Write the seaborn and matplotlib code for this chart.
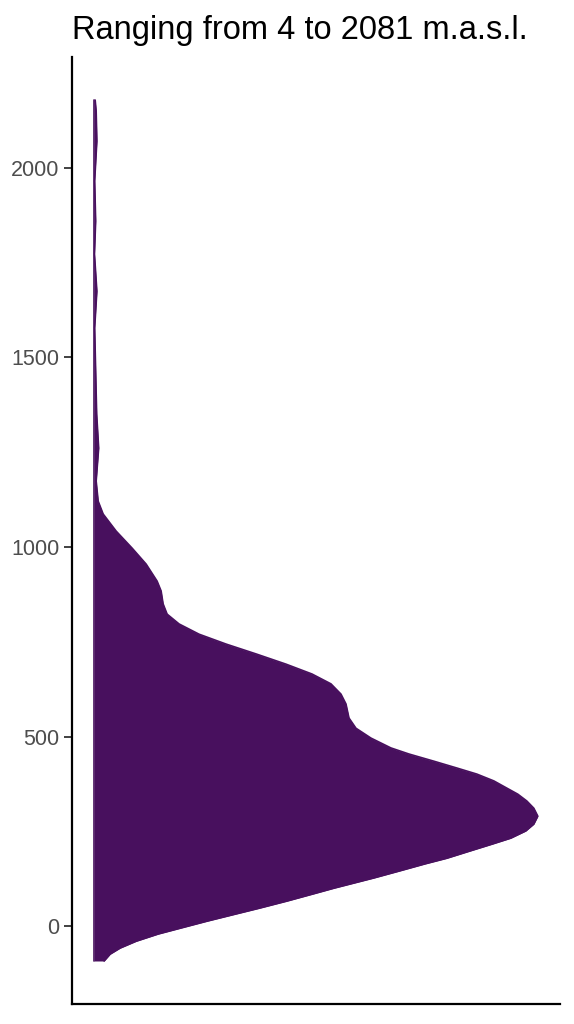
import numpy as np
import matplotlib.pyplot as plt
import seaborn as sns

# elevation (m.a.s.l.) and density width (peak = 444)
elev = [2179, 2150, 2071, 1966, 1860, 1773, 1675, 1578, 1464, 1351, 1261,
        1174, 1121, 1087, 1042, 997, 955, 910, 884, 850, 823, 797, 770, 744,
        718, 691, 665, 639, 612, 586, 549, 522, 496, 470, 454, 435, 417, 401,
        383, 364, 348, 330, 311, 290, 269, 251, 232, 216, 198, 179, 164, 145,
        127, 100, 84, 66, 47, 32, 13, -5, -21, -40, -58, -74, -92]
dens = [1, 2, 2.7, 0.5, 1.5, 0.3, 2.7, 0.5, 1.5, 2.5, 4.5,
        2, 4, 9, 22, 38, 52, 63, 67, 69, 73, 85, 105, 132,
        162, 192, 218, 237, 247, 252, 255, 262, 277, 297, 315, 340, 363, 383,
        400, 413, 424, 433, 440, 444, 440, 432, 417, 398, 376, 353, 331, 305,
        280, 240, 218, 193, 165, 142, 113, 87, 64, 42, 26, 16, 10]
dens = np.array(dens) / 444.0
elev = np.array(elev)
yticks = [0, 500, 1000, 1500, 2000]
title = "Ranging from 4 to 2081 m.a.s.l."
color = "#48105E"

sns.set_theme(style="ticks")
plt.rcParams['font.family'] = ['Liberation Sans', 'DejaVu Sans']

fig = plt.figure(figsize=(5.74, 10.24), dpi=100)
ax = fig.add_axes([0.1254, 0.0195, 0.8502, 0.9248])

ax.fill_betweenx(elev, 0, dens, color=color, linewidth=0)
sns.lineplot(x=dens, y=elev, sort=False, orient='y', color=color,
             linewidth=1.2, ax=ax)
ax.plot([0, 0], [elev.min(), elev.max()], color=color, linewidth=1.2)

span = elev.max() - elev.min()
ax.set_ylim(elev.min() - 0.05 * span, elev.max() + 0.05 * span)
ax.set_xlim(-0.05, 1.05)
ax.set_yticks(yticks)
ax.set_xticks([])
ax.set_xlabel('')
ax.set_ylabel('')
ax.tick_params(axis='y', labelsize=15.5, labelcolor='#4D4D4D', color='#333333',
               length=6, width=1.3, pad=3)
for s in ['left', 'bottom']:
    ax.spines[s].set_linewidth(1.6)
    ax.spines[s].set_color('black')
sns.despine(ax=ax)
ax.set_title(title, loc='left', fontsize=23.5, pad=13, color='black')

fig.savefig('out.png', dpi=100)
